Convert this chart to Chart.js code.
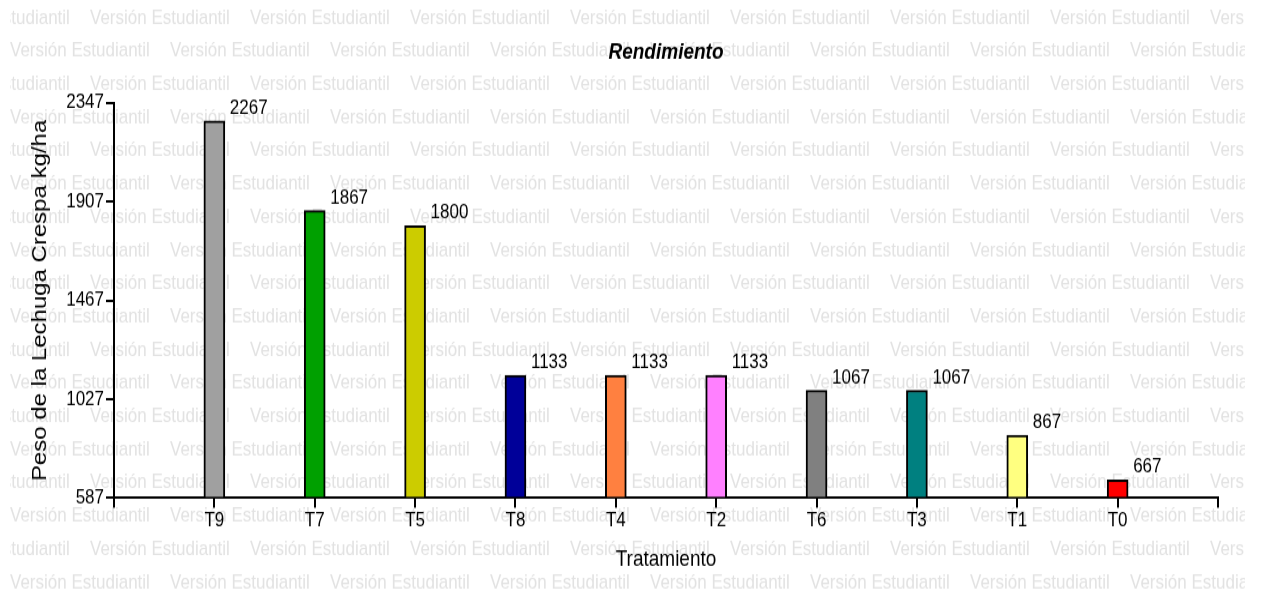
<!DOCTYPE html>
<html>
<head>
<meta charset="utf-8">
<script src="https://cdn.jsdelivr.net/npm/chart.js@4.4.1/dist/chart.umd.min.js"></script>
<style>
  html, body { margin: 0; padding: 0; background: #fff; overflow: hidden; }
</style>
</head>
<body>
<!-- el original esta estirado en vertical, asi que el canvas se dibuja mas bajo y se escala -->
<canvas id="grafico" width="1261" height="498" style="display:block;width:1261px;height:597px"></canvas>
<script>
const tratamientos = ['T9', 'T7', 'T5', 'T8', 'T4', 'T2', 'T6', 'T3', 'T1', 'T0'];
const rendimiento  = [2267, 1867, 1800, 1133, 1133, 1133, 1067, 1067, 867, 667];
const colores      = ['#a0a0a0', '#00a000', '#cccc00', '#000099', '#ff8040',
                      '#ff80ff', '#808080', '#008080', '#ffff80', '#ff0000'];
const yTicks = [587, 1027, 1467, 1907, 2347];
const marcaAgua = 'Versión Estudiantil';

const FUENTE = "'Liberation Sans', Arial, sans-serif";

// el eje x deja un hueco vacio a cada lado
const etiquetas = [''].concat(tratamientos, ['']);
const valores   = [null].concat(rendimiento, [null]);
const fondos    = ['#fff'].concat(colores, ['#fff']);

// ===============================
// MARCA DE AGUA
// ===============================
const marcaPlugin = {
    id: 'marca',
    beforeDraw(chart){
        const ctx = chart.ctx;
        ctx.save();
        ctx.beginPath();
        ctx.rect(10, 0, 1235, chart.height);
        ctx.clip();
        ctx.font = '17px ' + FUENTE;
        ctx.fillStyle = '#e2e2e2';
        ctx.textBaseline = 'middle';
        ctx.textAlign = 'left';
        for(let r = 0; r < 18; r++){
            const y = 15 + r * 27.7;
            const x0 = r % 2 === 0 ? -70 : 10;
            for(let x = x0; x < chart.width; x += 160){
                ctx.fillText(marcaAgua, x, y);
            }
        }
        ctx.restore();
    }
};

// ===============================
// ETIQUETAS DE VALOR
// ===============================
const valorPlugin = {
    id: 'valores',
    afterDatasetsDraw(chart){
        const ctx = chart.ctx;
        const meta = chart.getDatasetMeta(0);
        ctx.save();
        ctx.font = '17px ' + FUENTE;
        ctx.fillStyle = '#000';
        ctx.textAlign = 'left';
        ctx.textBaseline = 'alphabetic';
        meta.data.forEach((bar, i) => {
            const v = valores[i];
            if(v === null) return;
            ctx.fillText(String(v), bar.x + bar.width / 2 + 5, bar.y - 6);
        });
        ctx.restore();
    }
};

new Chart(document.getElementById('grafico'), {
    type: 'bar',
    data: {
        labels: etiquetas,
        datasets: [{
            data: valores,
            backgroundColor: fondos,
            borderColor: '#000',
            borderWidth: 2,
            barThickness: 21,
            base: yTicks[0]
        }]
    },
    options: {
        responsive: false,
        animation: false,
        layout: { padding: { right: 43 } },
        plugins: {
            legend: { display: false },
            tooltip: { enabled: false },
            title: {
                display: true,
                text: 'Rendimiento',
                fullSize: false,
                color: '#000',
                font: { family: FUENTE, size: 19, weight: 'bold', style: 'italic' },
                padding: { top: 32, bottom: 31 }
            }
        },
        scales: {
            x: {
                offset: false,
                grid: { offset: false, drawOnChartArea: false, color: '#000', lineWidth: 2, tickLength: 8 },
                border: { color: '#000', width: 2 },
                ticks: {
                    autoSkip: false, maxRotation: 0, padding: 1, color: '#000',
                    font: { family: FUENTE, size: 17 }
                },
                title: {
                    display: true, text: 'Tratamiento', color: '#000',
                    font: { family: FUENTE, size: 19 },
                    padding: { top: 0, bottom: 19.7 }
                },
                afterFit: s => { s.height = 82.6; }
            },
            y: {
                min: yTicks[0],
                max: yTicks[yTicks.length - 1],
                afterBuildTicks: s => { s.ticks = yTicks.map(v => ({ value: v })); },
                grid: { drawOnChartArea: false, color: '#000', lineWidth: 2, tickLength: 8 },
                border: { color: '#000', width: 2 },
                ticks: {
                    padding: 2, color: '#000', font: { family: FUENTE, size: 17 },
                    callback: v => String(v)
                },
                title: {
                    display: true, text: 'Peso de la Lechuga Crespa kg/ha', color: '#000',
                    font: { family: FUENTE, size: 20 },
                    padding: { top: 28, bottom: 0 }
                },
                afterFit: s => { s.width = 114; }
            }
        }
    },
    plugins: [marcaPlugin, valorPlugin]
});
</script>
</body>
</html>
